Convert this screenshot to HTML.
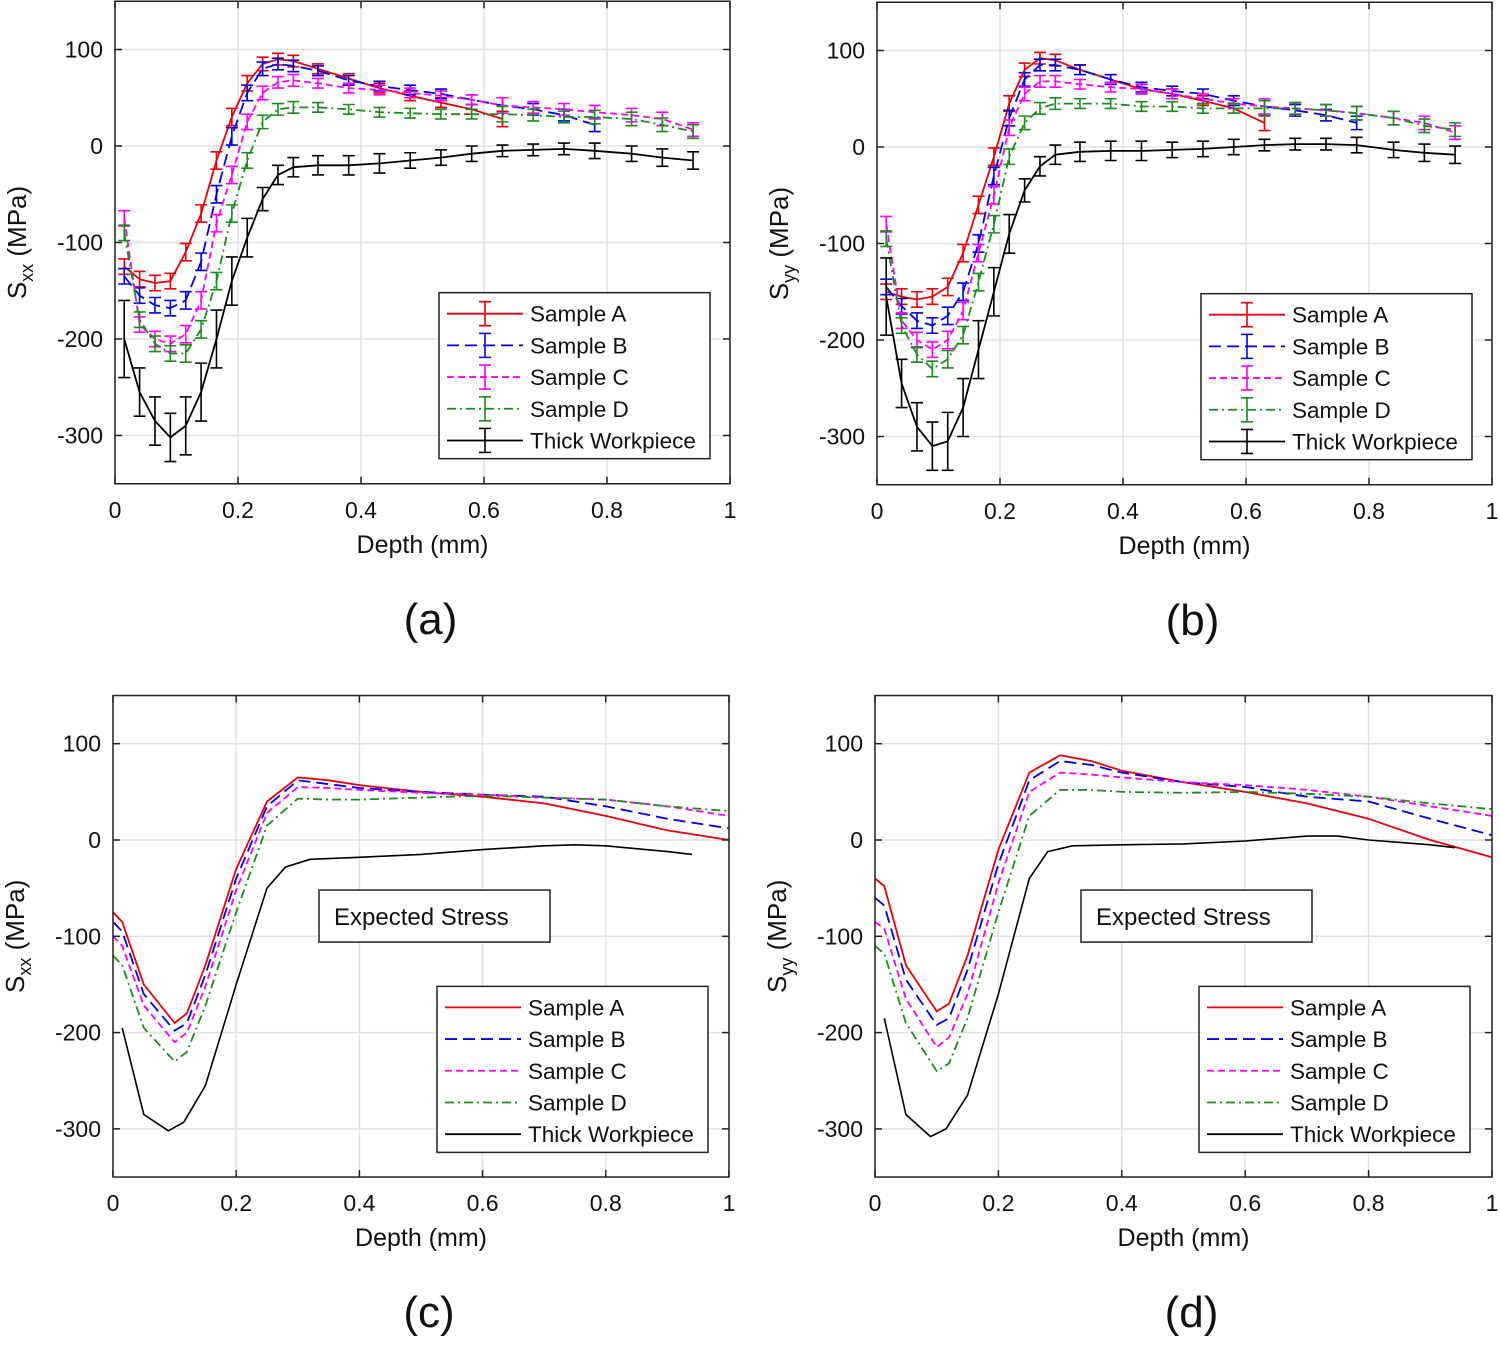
<!DOCTYPE html>
<html><head><meta charset="utf-8"><style>
html,body{margin:0;padding:0;background:#fff}
svg{display:block;font-family:"Liberation Sans",Arial,sans-serif}
</style></head><body>
<svg id="fig" width="1500" height="1346" viewBox="0 0 1500 1346" xmlns="http://www.w3.org/2000/svg"></svg>
<script>
// ---- shared data ----
const depthPts = [0.015,0.04,0.065,0.09,0.115,0.14,0.165,0.19,0.215,0.24,0.265,0.29,0.33,0.38,0.43,0.48,0.53,0.58,0.63,0.68,0.73,0.78,0.84,0.89,0.94];
const xTicks = [0,0.2,0.4,0.6,0.8,1];
const xTickLabels = ["0","0.2","0.4","0.6","0.8","1"];
const yTicks = [100,0,-100,-200,-300];
const yTickLabels = ["100","0","-100","-200","-300"];
const seriesNames = ["Sample A","Sample B","Sample C","Sample D","Thick Workpiece"];

// Panel (a) measured Sxx
const aA = [-125,-138,-142,-140,-110,-70,-15,30,65,85,90,88,80,70,60,52,45,38,28];
const aB = [-135,-155,-165,-168,-160,-120,-50,10,55,80,85,83,78,68,62,58,54,48,42,38,32,22];
const aC = [-75,-185,-200,-205,-195,-160,-80,-30,25,55,66,68,65,60,58,55,52,48,42,40,38,35,32,28,17];
const aD = [-90,-180,-205,-215,-215,-190,-140,-70,-15,25,38,40,40,38,35,34,33,33,33,32,30,30,28,22,15];
const aT = [-200,-255,-285,-302,-290,-255,-200,-140,-95,-55,-30,-22,-20,-20,-18,-15,-12,-8,-5,-4,-3,-5,-8,-12,-15];
// Panel (b) measured Syy
const bA = [-150,-155,-158,-155,-145,-110,-60,-10,45,80,92,90,80,70,60,55,48,40,25];
const bB = [-145,-165,-180,-185,-175,-150,-100,-30,30,70,85,85,80,70,62,58,55,48,42,38,33,25];
const bC = [-80,-180,-200,-210,-200,-170,-110,-50,20,55,68,68,65,62,60,55,50,45,42,40,38,35,30,25,15];
const bD = [-95,-185,-215,-230,-220,-195,-140,-80,-10,25,40,45,45,45,42,42,40,40,40,40,38,35,30,22,18];
const bT = [-155,-245,-290,-310,-305,-270,-210,-150,-90,-45,-20,-8,-5,-4,-4,-3,-2,0,2,3,3,2,-3,-6,-8];
const errColor = [8,8,8,8,9,9,9,9,8,7,6,6,5,5,5,5,5,5,8,6,6,7,7,7,7];
const errThick = [40,25,25,25,30,30,30,25,20,12,10,10,10,10,10,8,8,8,6,6,6,8,8,9,9];

// Panel (c) expected Sxx
const cDepth = [0,0.015,0.05,0.1,0.12,0.15,0.2,0.25,0.3,0.35,0.4,0.5,0.6,0.7,0.8,0.9,1.0];
const cA = [-75,-85,-150,-190,-180,-130,-30,40,65,62,57,50,45,38,25,10,0];
const cB = [-85,-95,-160,-198,-190,-140,-40,35,62,58,54,50,47,45,35,22,12];
const cC = [-100,-110,-172,-210,-200,-152,-52,28,55,54,52,49,47,44,42,35,25];
const cD = [-120,-130,-195,-230,-220,-172,-75,15,43,42,42,44,46,44,42,35,30];
const cTDepth = [0.015,0.05,0.09,0.115,0.15,0.2,0.25,0.28,0.32,0.4,0.5,0.6,0.7,0.75,0.8,0.9,0.94];
const cT = [-195,-285,-302,-293,-255,-150,-50,-28,-20,-18,-15,-10,-6,-5,-6,-12,-15];
// Panel (d) expected Syy
const dA = [-40,-48,-130,-178,-170,-120,-10,70,88,82,72,60,50,38,22,0,-18];
const dB = [-60,-68,-145,-192,-185,-135,-25,62,82,78,70,60,55,45,40,22,5];
const dC = [-85,-92,-165,-215,-205,-160,-45,50,70,68,65,60,57,52,45,35,25];
const dD = [-110,-118,-190,-240,-232,-185,-75,25,52,52,50,49,50,48,45,38,32];
const dT = [-185,-285,-308,-300,-265,-160,-40,-12,-6,-5,-4,-1,4,4,0,-5,-8];

const colors = ["#e8000b","#0000e6","#ff00ff","#1a8c1a","#000"];
const dashes = ["","12,6","7,4","9,4,2,4",""];
const NS = "http://www.w3.org/2000/svg";
const svg = document.getElementById("fig");
function el(tag, attrs, parent){const e=document.createElementNS(NS,tag);for(const k in attrs)e.setAttribute(k,attrs[k]);(parent||svg).appendChild(e);return e;}

function panel(p){
  const g = el("g",{});
  
  
  const X = v => p.x0 + (p.x1 - p.x0) * v;
  const Y = v => p.y0 - (v) * p.k;
  const top = Y(150), bot = Y(-350);
  xTicks.forEach(t=>{ const gl=el("line",{x1:X(t),x2:X(t),y1:top,y2:bot,stroke:"#e2e2e2","stroke-width":1.5},g);
     });
  yTicks.forEach(t=>{ const gl=el("line",{x1:p.x0,x2:p.x1,y1:Y(t),y2:Y(t),stroke:"#e2e2e2","stroke-width":1.5},g);
     });
  p.series.forEach((s,i)=>{
    const sg = el("g",{},g);
    
    
    const pts = s.v.map((v,j)=>X(s.x[j]).toFixed(1)+","+Y(v).toFixed(1)).join(" ");
    const pl = el("polyline",{points:pts,fill:"none",stroke:colors[i],"stroke-width":i==4&&!s.err?1.6:1.8,"stroke-dasharray":dashes[i],"stroke-linejoin":"round"},sg);
     
    if(s.err){
      s.v.forEach((v,j)=>{
        const e=s.err[j], cx=X(s.x[j]);
        const eb=el("path",{d:`M${cx},${Y(v+e)}V${Y(v-e)}M${cx-6},${Y(v+e)}h12M${cx-6},${Y(v-e)}h12`,stroke:colors[i],"stroke-width":1.6,fill:"none"},sg);
         
      });
    }
  });
  const bx=el("rect",{x:p.x0,y:top,width:p.x1-p.x0,height:bot-top,fill:"none",stroke:"#222","stroke-width":1.5},g);
   
  xTicks.forEach((t,i)=>{
    el("line",{x1:X(t),x2:X(t),y1:bot,y2:bot-7,stroke:"#222","stroke-width":1.5},g);
    el("line",{x1:X(t),x2:X(t),y1:top,y2:top+7,stroke:"#222","stroke-width":1.5},g);
    const tx=el("text",{x:X(t),y:bot+34,"font-size":23,"text-anchor":"middle",fill:"#111"},g);
    tx.textContent=xTickLabels[i];
     
  });
  yTicks.forEach((t,i)=>{
    el("line",{x1:p.x0,x2:p.x0+7,y1:Y(t),y2:Y(t),stroke:"#222","stroke-width":1.5},g);
    el("line",{x1:p.x1,x2:p.x1-7,y1:Y(t),y2:Y(t),stroke:"#222","stroke-width":1.5},g);
    const tx=el("text",{x:p.x0-12,y:Y(t)+8,"font-size":23,"text-anchor":"end",fill:"#111"},g);
    tx.textContent=yTickLabels[i];
     
  });
  const xl=el("text",{x:(p.x0+p.x1)/2,y:bot+69,"font-size":25,"text-anchor":"middle",fill:"#111"},g);
  xl.textContent="Depth (mm)";
   
  const yl=el("text",{transform:`translate(${p.x0-89},${(top+bot)/2}) rotate(-90)`,"font-size":26,"text-anchor":"middle",fill:"#111"},g);
  yl.innerHTML=`S<tspan font-size="18" dy="7">${p.sub}</tspan><tspan dy="-7"> (MPa)</tspan>`;
   
  const cap=el("text",{x:(p.x0+p.x1)/2+8,y:bot+150,"font-size":44,"text-anchor":"middle",fill:"#111"},g);
  cap.textContent="("+p.id+")";
   
  const lx=p.x0+324, ly=Y(-152);
  const lg=el("g",{},g);
   
  el("rect",{x:lx,y:ly,width:271,height:166,fill:"#fff",stroke:"#222","stroke-width":1.5},lg);
  seriesNames.forEach((n,i)=>{
    const ey=ly+21+i*31.7;
    const le=el("g",{},lg);
     
    el("line",{x1:lx+8,x2:lx+84,y1:ey,y2:ey,stroke:colors[i],"stroke-width":1.8,"stroke-dasharray":dashes[i]},le);
    if(p.errLegend) el("path",{d:`M${lx+46},${ey-12}V${ey+12}M${lx+40},${ey-12}h12M${lx+40},${ey+12}h12`,stroke:colors[i],"stroke-width":1.6,fill:"none"},le);
    const t=el("text",{x:lx+91,y:ey+8,"font-size":22.5,fill:"#111"},le);
    t.textContent=n;
  });
  if(p.expected){
    const eg=el("g",{},g);
     
    el("rect",{x:p.x0+206,y:Y(-52),width:231,height:52,fill:"#fff",stroke:"#222","stroke-width":1.5},eg);
    const t=el("text",{x:p.x0+221,y:Y(-52)+35,"font-size":24,fill:"#111"},eg);
    t.textContent="Expected Stress";
  }
}
const sl = n => depthPts.slice(0,n);
panel({id:"a",sub:"xx",x0:115,x1:730,y0:146,k:0.965,errLegend:true,series:[
  {x:sl(aA.length),v:aA,err:errColor},{x:sl(aB.length),v:aB,err:errColor},{x:sl(25),v:aC,err:errColor},{x:sl(25),v:aD,err:errColor},{x:sl(25),v:aT,err:errThick}]});
panel({id:"b",sub:"yy",x0:877,x1:1492,y0:147,k:0.965,errLegend:true,series:[
  {x:sl(bA.length),v:bA,err:errColor},{x:sl(bB.length),v:bB,err:errColor},{x:sl(25),v:bC,err:errColor},{x:sl(25),v:bD,err:errColor},{x:sl(25),v:bT,err:errThick}]});
panel({id:"c",sub:"xx",x0:113,x1:729,y0:840,k:0.963,expected:true,series:[
  {x:cDepth,v:cA},{x:cDepth,v:cB},{x:cDepth,v:cC},{x:cDepth,v:cD},{x:cTDepth,v:cT}]});
panel({id:"d",sub:"yy",x0:875,x1:1492,y0:840,k:0.963,expected:true,series:[
  {x:cDepth,v:dA},{x:cDepth,v:dB},{x:cDepth,v:dC},{x:cDepth,v:dD},{x:cTDepth,v:dT}]});
</script>
</body></html>
